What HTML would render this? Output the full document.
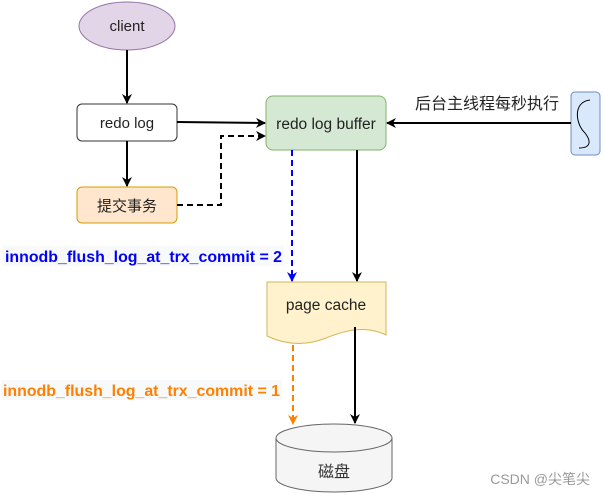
<!DOCTYPE html>
<html><head><meta charset="utf-8"><style>body{margin:0;background:#fff}svg{display:block}text{font-family:"Liberation Sans","Noto Sans CJK SC",sans-serif}</style></head><body>
<svg width="605" height="495" viewBox="0 0 605 495" xmlns="http://www.w3.org/2000/svg">
<defs>
<marker id="ak" markerWidth="10" markerHeight="10" refX="9" refY="5" orient="auto" markerUnits="userSpaceOnUse"><path d="M0,0 L10,5 L0,10 L3,5 Z" fill="#000"/></marker>
<marker id="ab" markerWidth="10" markerHeight="10" refX="9" refY="5" orient="auto" markerUnits="userSpaceOnUse"><path d="M0,0 L10,5 L0,10 L3,5 Z" fill="#0000ff"/></marker>
<marker id="ao" markerWidth="10" markerHeight="10" refX="9" refY="5" orient="auto" markerUnits="userSpaceOnUse"><path d="M0,0 L10,5 L0,10 L3,5 Z" fill="#ff8000"/></marker>
</defs>
<ellipse cx="127" cy="26" rx="48" ry="24" fill="#e1d5e7" stroke="#9673a6"/>
<text x="127" y="31" font-size="15" text-anchor="middle" fill="#222">client</text>
<rect x="77" y="104" width="100" height="37" rx="5" fill="#fff" stroke="#333"/>
<text x="127" y="128" font-size="15" text-anchor="middle" fill="#222">redo log</text>
<rect x="77" y="187" width="100" height="36" rx="5" fill="#ffe6cc" stroke="#d79b00"/>
<text x="127" y="211" font-size="15" text-anchor="middle" fill="#222">提交事务</text>
<rect x="266" y="96" width="120" height="54" rx="7" fill="#d5e8d4" stroke="#82b366"/>
<text x="326" y="129" font-size="15.5" text-anchor="middle" fill="#222">redo log buffer</text>
<rect x="571" y="92" width="29" height="63" rx="4" fill="#dae8fc" stroke="#6c8ebf"/>
<path d="M590,100 C572,102 576,125 585,133 C592,142 590,148 579,148" fill="none" stroke="#000"/>
<text x="487" y="109" font-size="16" text-anchor="middle" fill="#222">后台主线程每秒执行</text>
<path d="M267,282 H386 V335 C366,325 346,330 326,338 C306,346 286,345 267,336 Z" fill="#fff2cc" stroke="#d6b656"/>
<text x="326" y="310" font-size="15.5" text-anchor="middle" fill="#222">page cache</text>
<path d="M276,438 V478 A58,14 0 0 0 392,478 V438" fill="#f5f5f5" stroke="#666"/>
<ellipse cx="334" cy="438" rx="58" ry="14" fill="#f5f5f5" stroke="#666"/>
<text x="334" y="477" font-size="16" text-anchor="middle" fill="#333">磁盘</text>
<text x="590" y="484" font-size="14" text-anchor="end" fill="#999">CSDN @尖笔尖</text>
<g stroke-width="2" fill="none">
<line x1="127" y1="50" x2="127" y2="103" stroke="#000" marker-end="url(#ak)"/>
<line x1="127" y1="141" x2="127" y2="186" stroke="#000" marker-end="url(#ak)"/>
<line x1="177" y1="122" x2="265" y2="123" stroke="#000" marker-end="url(#ak)"/>
<path d="M177,205 H221 V136 H265" stroke="#000" stroke-dasharray="6,4" marker-end="url(#ak)"/>
<line x1="571" y1="123" x2="387" y2="123" stroke="#000" marker-end="url(#ak)"/>
<line x1="292" y1="150" x2="292" y2="281" stroke="#0000ff" stroke-dasharray="6,4" marker-end="url(#ab)"/>
<line x1="357" y1="150" x2="357" y2="281" stroke="#000" marker-end="url(#ak)"/>
<line x1="293" y1="345" x2="293" y2="424" stroke="#ff8000" stroke-dasharray="6,4" marker-end="url(#ao)"/>
<line x1="355" y1="327" x2="355" y2="423" stroke="#000" marker-end="url(#ak)"/>
</g>
<rect x="3" y="246" width="281" height="20" fill="#f8f9fb"/>
<text x="5" y="262" font-size="16" font-weight="bold" fill="#0000ff" textLength="277" lengthAdjust="spacingAndGlyphs">innodb_flush_log_at_trx_commit = 2</text>
<rect x="1" y="380" width="281" height="20" fill="#f8f9fb"/>
<text x="3" y="396" font-size="16" font-weight="bold" fill="#ff8000" textLength="277" lengthAdjust="spacingAndGlyphs">innodb_flush_log_at_trx_commit = 1</text>
</svg>
</body></html>
